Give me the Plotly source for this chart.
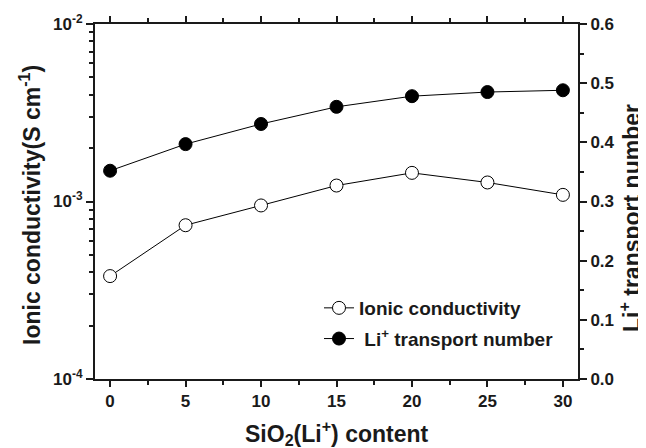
import plotly.graph_objects as go

content = [0, 5, 10, 15, 20, 25, 30]
ionic_conductivity = [3.8e-4, 7.35e-4, 9.5e-4, 1.23e-3, 1.45e-3, 1.28e-3, 1.09e-3]
transport_number = [0.352, 0.397, 0.431, 0.460, 0.478, 0.485, 0.488]
x_ticks = [0, 5, 10, 15, 20, 25, 30]
y2_ticks = [0, 0.1, 0.2, 0.3, 0.4, 0.5, 0.6]

FONT = "Liberation Sans, Arial, Helvetica, sans-serif"
INK = "#1a1a1a"

# the page body has an 8px margin, so the figure is sized to fit the window
W, H = 638, 440
L, R, T, B = 87, 68, 16, 69

fig = go.Figure()
fig.add_trace(go.Scatter(
    x=content, y=ionic_conductivity, mode="lines+markers",
    name="<b>Ionic conductivity</b>", legendgroup="a",
    line=dict(color="black", width=1),
    marker=dict(symbol="circle", size=13, color="white", line=dict(color="black", width=1)),
    yaxis="y"))
fig.add_trace(go.Scatter(
    x=content, y=transport_number, mode="lines+markers",
    name="<b> Li<sup>+</sup> transport number</b>", legendgroup="b",
    line=dict(color="black", width=1),
    marker=dict(symbol="circle", size=13, color="black", line=dict(color="black", width=1)),
    yaxis="y2"))

tickfont = dict(family=FONT, size=17, color=INK)
pw, ph = W - L - R, H - T - B

def px(xp):
    return (xp - L) / pw

def py(yp):
    return 1 - (yp - T) / ph

fig.update_layout(
    width=W, height=H,
    paper_bgcolor="white", plot_bgcolor="white",
    margin=dict(l=L, r=R, t=T, b=B),
    showlegend=True,
    legend=dict(x=px(311), y=py(281), xanchor="left", yanchor="top",
                font=dict(family=FONT, size=19, color=INK),
                bgcolor="rgba(0,0,0,0)", tracegroupgap=3, itemwidth=30),
    xaxis=dict(range=[-1, 31], tickvals=x_ticks,
               ticktext=["<b>%d</b>" % v for v in x_ticks],
               ticks="outside", ticklen=6, tickwidth=2, tickcolor=INK,
               minor=dict(tickvals=[2.5, 7.5, 12.5, 17.5, 22.5, 27.5], ticks="outside", ticklen=4, tickwidth=2, tickcolor=INK),
               showline=True, linecolor=INK, linewidth=2, mirror="ticks",
               showgrid=False, zeroline=False, tickfont=tickfont, automargin=False),
    yaxis=dict(type="log", range=[-4, -2],
               tickvals=[1e-4, 1e-3, 1e-2],
               ticktext=["<b>10<sup>-4</sup></b>", "<b>10<sup>-3</sup></b>", "<b>10<sup>-2</sup></b>"],
               ticks="outside", ticklen=7, tickwidth=2, tickcolor=INK,
               minor=dict(tickvals=[k * 10 ** e for e in (-4, -3) for k in range(2, 10)],
                          ticks="outside", ticklen=4, tickwidth=2, tickcolor=INK),
               showline=True, linecolor=INK, linewidth=2,
               showgrid=False, zeroline=False, tickfont=tickfont, automargin=False),
    yaxis2=dict(overlaying="y", side="right", range=[0, 0.6],
                tickvals=y2_ticks,
                ticktext=["<b>%.1f</b>" % v for v in y2_ticks],
                ticks="outside", ticklen=7, tickwidth=2, tickcolor=INK,
                minor=dict(tickvals=[0.05, 0.15, 0.25, 0.35, 0.45, 0.55], ticks="outside", ticklen=4, tickwidth=2, tickcolor=INK),
                showline=True, linecolor=INK, linewidth=2,
                showgrid=False, zeroline=False, tickfont=tickfont, automargin=False),
    annotations=[
        dict(text="<b>SiO<sub>2</sub>(Li<sup>+</sup>) content</b>", xref="paper", yref="paper",
             x=0.5, y=py(425), xanchor="center", yanchor="middle", showarrow=False,
             font=dict(family=FONT, size=23, color=INK)),
        dict(text="<b>Ionic conductivity(S cm<sup>-1</sup>)</b>", xref="paper", yref="paper",
             x=px(22), y=py(197), xanchor="center", yanchor="middle", showarrow=False,
             textangle=-90, font=dict(family=FONT, size=23, color=INK)),
        dict(text="<b>Li<sup>+</sup> transport number</b>", xref="paper", yref="paper",
             x=px(622), y=py(210), xanchor="center", yanchor="middle", showarrow=False,
             textangle=-90, font=dict(family=FONT, size=23, color=INK)),
    ],
)

fig.write_html("out.html")
